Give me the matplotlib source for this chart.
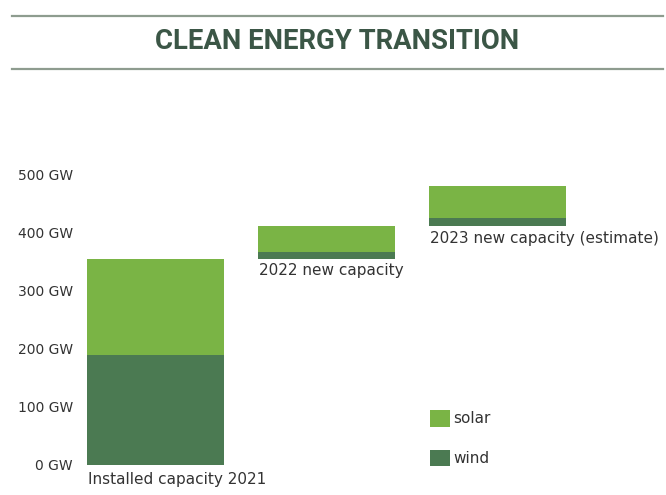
import matplotlib
matplotlib.use("Agg")
import matplotlib.pyplot as plt
import numpy as np

# ── data (GW) ────────────────────────────────────────────────────────────────
categories = ["Installed capacity 2021", "2022 new capacity",
              "2023 new capacity (estimate)"]
wind = [189, 12, 14]
solar = [165, 45, 55]
yticks = [0, 100, 200, 300, 400, 500]
ytick_labels = [f"{v} GW" for v in yticks]

SOLAR = "#7ab445"
WIND = "#4b7a52"
TEXT = "#333333"
TITLE = "#3b5646"
RULE = "#8e9c8f"

plt.rcParams["font.family"] = ["DejaVu Sans"]

fig = plt.figure(figsize=(6.66, 4.95), dpi=100)

# header: title between two rules
fig.add_artist(plt.Line2D([12 / 666, 663 / 666], [1 - 15.5 / 495] * 2,
                          color=RULE, lw=1.6))
fig.add_artist(plt.Line2D([12 / 666, 663 / 666], [1 - 69 / 495] * 2,
                          color=RULE, lw=1.6))
fig.text(337 / 666, 1 - 41.5 / 495, "CLEAN ENERGY TRANSITION", ha="center",
         va="center", fontsize=19.8, fontweight="bold", color=TITLE,
         family="Roboto")

# axes: x in category units, y in GW
ax = fig.add_axes([80 / 666, 30 / 495, 580 / 666, (465 - 160) / 495])
x = np.arange(len(categories))
width = 0.8
base = np.concatenate([[0], np.cumsum(np.array(wind) + np.array(solar))[:-1]])

ax.bar(x, wind, width, bottom=base, color=WIND, align="edge", label="wind")
ax.bar(x, solar, width, bottom=base + np.array(wind), color=SOLAR,
       align="edge", label="solar")

ax.set_xlim(-0.041, 3.35)
ax.set_ylim(0, 500 * (465 - 160) / (465 - 174))
ax.set_yticks(yticks, ytick_labels)
ax.set_xticks([])
ax.tick_params(axis="y", length=0, pad=5, labelsize=10, labelcolor=TEXT)
for s in ax.spines.values():
    s.set_visible(False)

# category labels under each bar
offsets = [-5, -3, -4]
for xi, b, lab, off in zip(x, base, categories, offsets):
    ax.annotate(lab, (xi, b), xytext=(0.5, off), textcoords="offset points",
                ha="left", va="top", fontsize=11, color=TEXT,
                annotation_clip=False)

handles, labels = ax.get_legend_handles_labels()
leg = ax.legend(handles[::-1], labels[::-1], loc="upper left",
                bbox_to_anchor=(430 / 666, 1 - 410 / 495),
                bbox_transform=fig.transFigure, frameon=False, fontsize=11,
                handlelength=1.3, handleheight=1.3, handletextpad=0.25,
                labelspacing=1.5, borderpad=0, borderaxespad=0)
for t in leg.get_texts():
    t.set_color(TEXT)

fig.savefig("out.png", dpi=100)
